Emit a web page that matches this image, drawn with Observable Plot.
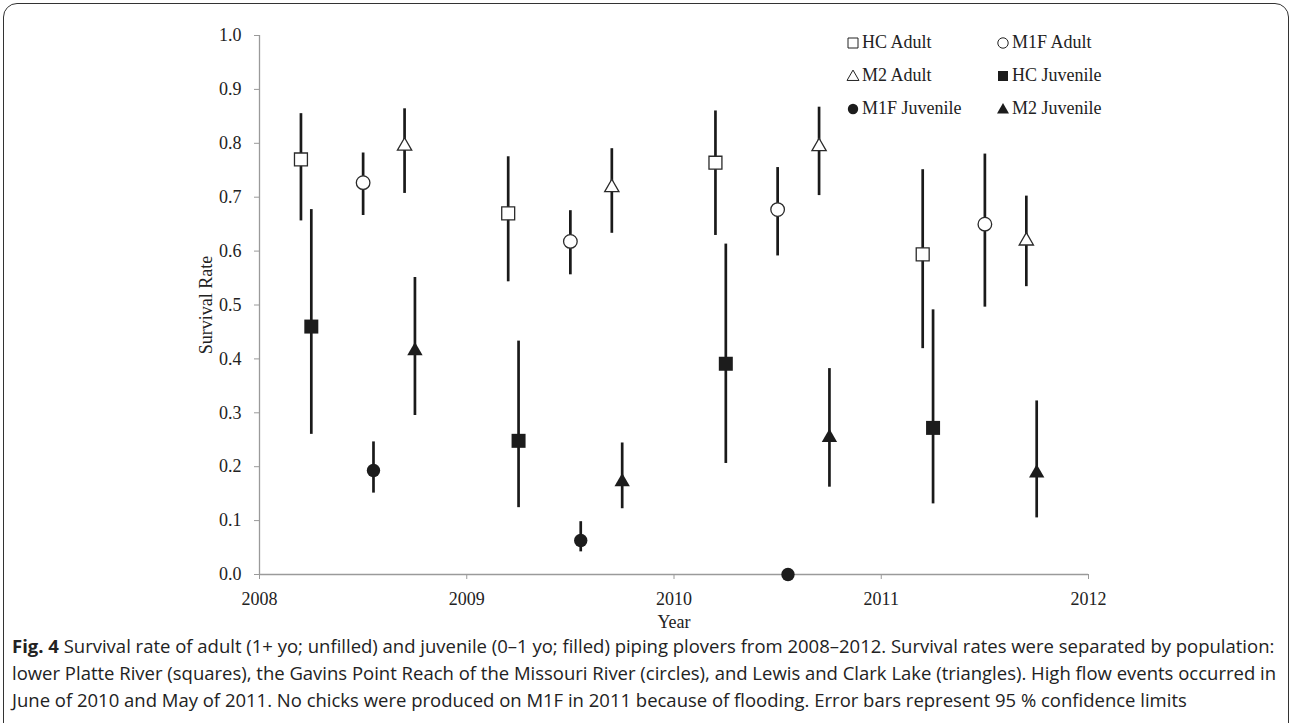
<!DOCTYPE html>
<html>
<head>
<meta charset="utf-8">
<script src="https://cdn.jsdelivr.net/npm/d3@7"></script>
<script src="https://cdn.jsdelivr.net/npm/@observablehq/plot@0.6"></script>
<style>
  html, body { margin: 0; padding: 0; background: #fff; }
  body { width: 1292px; height: 723px; overflow: hidden; position: relative; }
  #frame { position: absolute; left: 3px; top: 3px; width: 1286px; height: 800px;
           border: 1.6px solid #333; border-radius: 14px; box-sizing: border-box; }
  #chart { position: absolute; left: 0; top: 0; }
  #legend { position: absolute; left: 846px; top: 26px; font-family: "Liberation Serif", serif;
            font-size: 18px; color: #222; display: grid; grid-template-columns: 150px 150px;
            grid-auto-rows: 33px; align-items: center; }
  #legend .item { display: flex; align-items: center; white-space: nowrap; }
  #legend svg { margin-right: 2px; }
  #caption { position: absolute; left: 12px; top: 633px; font-family: "Open Sans", sans-serif;
             font-size: 18px; line-height: 27.2px; color: #222; white-space: nowrap;
             transform-origin: 0 0; }
  #caption b { font-weight: 700; }
</style>
</head>
<body>
<div id="frame"></div>
<div id="chart"></div>
<div id="legend"></div>
<div id="caption"></div>
<script>
// ---------- data ----------
const years = [2008, 2009, 2010, 2011];
const xTicks = [2008, 2009, 2010, 2011, 2012];
const yTicks = [0, 0.1, 0.2, 0.3, 0.4, 0.5, 0.6, 0.7, 0.8, 0.9, 1.0];

const seriesNames = ["HC Adult", "M1F Adult", "M2 Adult", "HC Juvenile", "M1F Juvenile", "M2 Juvenile"];
const legendOrder = ["HC Adult", "M1F Adult", "M2 Adult", "HC Juvenile", "M1F Juvenile", "M2 Juvenile"];
// fraction of the year at which each population is plotted
const seriesOffset = [0.20, 0.50, 0.70, 0.25, 0.55, 0.75];

const hcAdult    = [0.770, 0.670, 0.764, 0.594];
const hcAdultLo  = [0.656, 0.543, 0.629, 0.419];
const hcAdultHi  = [0.855, 0.775, 0.860, 0.751];

const m1fAdult   = [0.727, 0.618, 0.677, 0.650];
const m1fAdultLo = [0.666, 0.556, 0.591, 0.496];
const m1fAdultHi = [0.782, 0.675, 0.755, 0.780];

const m2Adult    = [0.795, 0.718, 0.794, 0.619];
const m2AdultLo  = [0.707, 0.633, 0.703, 0.534];
const m2AdultHi  = [0.864, 0.790, 0.867, 0.702];

const hcJuv      = [0.460, 0.248, 0.391, 0.272];
const hcJuvLo    = [0.260, 0.124, 0.206, 0.131];
const hcJuvHi    = [0.677, 0.433, 0.613, 0.491];

const m1fJuv     = [0.193, 0.063, 0.000, null];
const m1fJuvLo   = [0.151, 0.042, null, null];
const m1fJuvHi   = [0.246, 0.098, null, null];

const m2Juv      = [0.415, 0.172, 0.254, 0.188];
const m2JuvLo    = [0.295, 0.122, 0.162, 0.105];
const m2JuvHi    = [0.551, 0.244, 0.382, 0.322];

const captionLines = [
  "Survival rate of adult (1+ yo; unfilled) and juvenile (0–1 yo; filled) piping plovers from 2008–2012. Survival rates were separated by population:",
  "lower Platte River (squares), the Gavins Point Reach of the Missouri River (circles), and Lewis and Clark Lake (triangles). High flow events occurred in",
  "June of 2010 and May of 2011. No chicks were produced on M1F in 2011 because of flooding. Error bars represent 95 % confidence limits"
];

// ---------- build ----------
const values = [hcAdult, m1fAdult, m2Adult, hcJuv, m1fJuv, m2Juv];
const lows   = [hcAdultLo, m1fAdultLo, m2AdultLo, hcJuvLo, m1fJuvLo, m2JuvLo];
const highs  = [hcAdultHi, m1fAdultHi, m2AdultHi, hcJuvHi, m1fJuvHi, m2JuvHi];

const styleOf = {
  "HC Adult":     {symbol: "square",   r: 7.3, fill: "#fff",    stroke: "#2a2a2a", sw: 1.3},
  "M1F Adult":    {symbol: "circle",   r: 6.8, fill: "#fff",    stroke: "#2a2a2a", sw: 1.3},
  "M2 Adult":     {symbol: "triangle", r: 5.3, fill: "#fff",    stroke: "#2a2a2a", sw: 1.3},
  "HC Juvenile":  {symbol: "square",   r: 7.9, fill: "#1c1c1c", stroke: "none",    sw: 0},
  "M1F Juvenile": {symbol: "circle",   r: 6.7, fill: "#1c1c1c", stroke: "none",    sw: 0},
  "M2 Juvenile":  {symbol: "triangle", r: 5.7, fill: "#1c1c1c", stroke: "none",    sw: 0}
};

const rows = [];
seriesNames.forEach((name, i) => {
  years.forEach((yr, j) => {
    if (values[i][j] == null) return;
    rows.push({name, x: yr + seriesOffset[i], v: values[i][j], lo: lows[i][j], hi: highs[i][j]});
  });
});

const dotMarks = seriesNames.map(name => {
  const s = styleOf[name];
  return Plot.dot(rows.filter(d => d.name === name), {
    x: "x", y: "v", symbol: s.symbol, r: s.r, fill: s.fill, stroke: s.stroke, strokeWidth: s.sw
  });
});

const chart = Plot.plot({
  width: 1292,
  height: 634,
  marginLeft: 259,
  marginRight: 204,
  marginTop: 35,
  marginBottom: 60,
  style: {fontFamily: "'Liberation Serif', serif", fontSize: "18px", color: "#222", background: "transparent"},
  x: {domain: [2008, 2012]},
  y: {domain: [0, 1]},
  marks: [
    Plot.ruleX([2008], {stroke: "#9a9a9a", strokeWidth: 1.3}),
    Plot.ruleY([0], {stroke: "#9a9a9a", strokeWidth: 1.3}),
    Plot.axisY({ticks: yTicks, tickFormat: d3.format(".1f"), tickSize: 5, tickPadding: 13,
                stroke: "#9a9a9a", fill: "#222", fontSize: 18,
                label: "Survival Rate", labelAnchor: "center", labelOffset: 60, labelArrow: "none"}),
    Plot.axisX({ticks: xTicks, tickFormat: d3.format("d"), tickSize: 5, tickPadding: 13,
                stroke: "#9a9a9a", fill: "#222", fontSize: 18,
                label: "Year", labelAnchor: "center", labelOffset: 53, labelArrow: "none"}),
    Plot.ruleX(rows.filter(d => d.lo != null), {x: "x", y1: "lo", y2: "hi", stroke: "#1a1a1a", strokeWidth: 2.7}),
    ...dotMarks
  ]
});
document.getElementById("chart").appendChild(chart);

// ---------- legend ----------
const legend = document.getElementById("legend");
legendOrder.forEach(name => {
  const s = styleOf[name];
  const item = document.createElement("div");
  item.className = "item";
  const size = 14;
  const svg = d3.create("svg").attr("width", size).attr("height", size);
  const area = {square: 100, circle: 85, triangle: 62}[s.symbol];
  const sym = {square: d3.symbolSquare, circle: d3.symbolCircle, triangle: d3.symbolTriangle}[s.symbol];
  svg.append("path")
    .attr("transform", `translate(${size/2},${size/2 + (s.symbol === "triangle" ? 1 : 0)})`)
    .attr("d", d3.symbol(sym, area)())
    .attr("fill", s.fill)
    .attr("stroke", s.stroke === "none" ? "none" : "#222")
    .attr("stroke-width", 1);
  item.appendChild(svg.node());
  const t = document.createElement("span");
  t.textContent = name;
  item.appendChild(t);
  legend.appendChild(item);
});

// ---------- caption ----------
const cap = document.getElementById("caption");
captionLines.forEach((line, i) => {
  const div = document.createElement("div");
  if (i === 0) {
    const b = document.createElement("b");
    b.textContent = "Fig. 4";
    div.appendChild(b);
    div.appendChild(document.createTextNode(" " + line));
  } else {
    div.textContent = line;
  }
  cap.appendChild(div);
});
const first = cap.firstChild;
const w = first.getBoundingClientRect().width;
const target = 1264;
cap.style.transform = `scaleX(${target / w})`;
</script>
</body>
</html>
